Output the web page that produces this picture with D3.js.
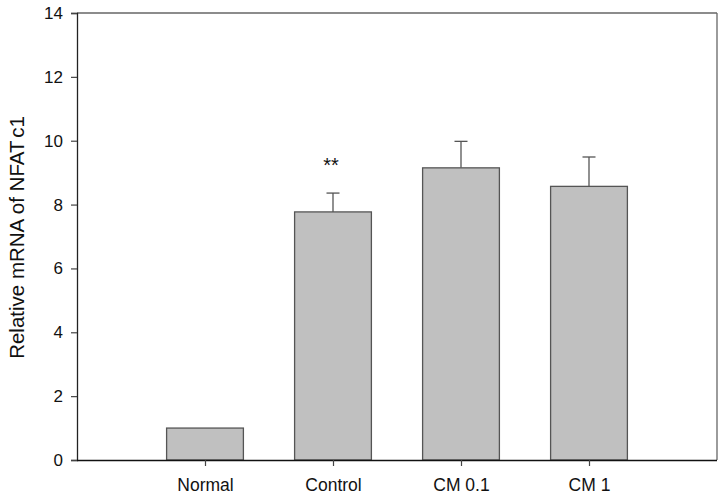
<!DOCTYPE html>
<html><head><meta charset="utf-8">
<script src="https://cdn.jsdelivr.net/npm/d3@7"></script>
<style>body{margin:0;background:#fff}svg{display:block}text{font-family:Arial,"Liberation Sans",sans-serif;fill:#111}</style>
</head><body><svg id="c" width="725" height="496"></svg>
<script>
const categories = ["Normal","Control","CM 0.1","CM 1"];
const values = [1.0, 7.77, 9.15, 8.57];
const errors = [0, 0.59, 0.83, 0.92];
const marks = ["", "**", "", ""];
const yTicks = [0,2,4,6,8,10,12,14];

const svg = d3.select("#c");
const L=77, R=717, T=13, B=460;
const x = d3.scaleLinear().domain([0,5]).range([L,R]);
const y = d3.scaleLinear().domain([0,14]).range([B,T]);
const bw = x(0.6)-x(0);
const FF = "Arial, 'Liberation Sans', sans-serif";

// frame top/right
svg.append("line").attr("x1",L).attr("x2",R).attr("y1",T).attr("y2",T).attr("stroke","#666").attr("stroke-width",1.3);
svg.append("line").attr("x1",R).attr("x2",R).attr("y1",T).attr("y2",B).attr("stroke","#666").attr("stroke-width",1.3);

const g = svg.append("g");
categories.forEach((c,i)=>{
  const cx = x(i+1);
  if(errors[i]>0){
    g.append("line").attr("x1",cx).attr("x2",cx).attr("y1",y(values[i])).attr("y2",y(values[i]+errors[i])).attr("stroke","#555").attr("stroke-width",1.3);
    g.append("line").attr("x1",cx-6.5).attr("x2",cx+6.5).attr("y1",y(values[i]+errors[i])).attr("y2",y(values[i]+errors[i])).attr("stroke","#555").attr("stroke-width",1.3);
  }
  g.append("rect").attr("x",cx-bw/2).attr("y",y(values[i])).attr("width",bw).attr("height",y(0)-y(values[i]))
    .attr("fill","#c0c0c0").attr("stroke","#555").attr("stroke-width",1.3);
  if(marks[i]) g.append("text").attr("x",cx-2).attr("y",y(values[i]+errors[i])-21.5).attr("text-anchor","middle")
    .attr("font-size",20).style("font-family",FF).text(marks[i]);
});

// y axis
const ya = svg.append("g").attr("transform",`translate(${L},0)`).call(d3.axisLeft(y).tickValues(yTicks).tickSize(6).tickPadding(8).tickFormat(d3.format("d")));
ya.selectAll("text").attr("font-size",17).style("font-family",FF).attr("fill","#111");
ya.select(".domain").attr("stroke","#222").attr("stroke-width",1.3);
ya.selectAll(".tick line").attr("stroke","#444").attr("stroke-width",1.2);

// x axis
const xa = svg.append("g").attr("transform",`translate(0,${B})`).call(d3.axisBottom(x).tickValues([1,2,3,4]).tickSize(6).tickPadding(13).tickFormat(d=>categories[d-1]));
xa.selectAll("text").attr("font-size",17.5).style("font-family",FF).attr("fill","#111");
xa.select(".domain").attr("d",`M${L},0.5H${R}`).attr("stroke","#111").attr("stroke-width",1.5);
xa.selectAll(".tick line").attr("stroke","#444").attr("stroke-width",1.2);

const lab = svg.append("text").attr("transform",`translate(23.5,${(T+B)/2+1}) rotate(-90)`).attr("text-anchor","middle")
  .attr("font-size",20.5).style("font-family",FF);
lab.append("tspan").text("Relative mRNA of NFAT");
lab.append("tspan").attr("dx",5).text("c1");
</script></body></html>
